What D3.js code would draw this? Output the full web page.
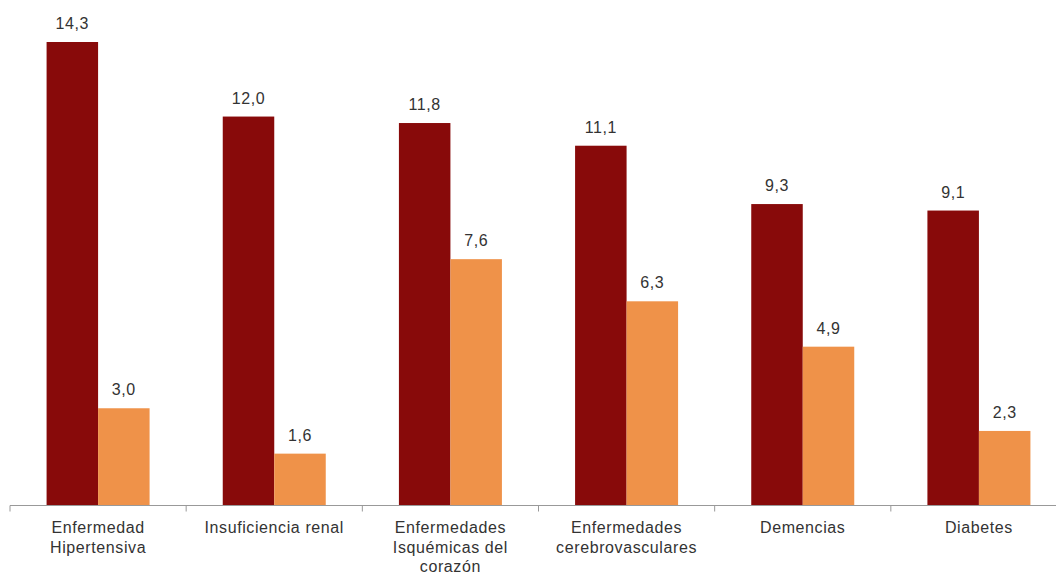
<!DOCTYPE html>
<html><head><meta charset="utf-8">
<script src="https://cdn.jsdelivr.net/npm/d3@7"></script>
<style>html,body{margin:0;padding:0;background:#fff;}svg{display:block;}</style>
</head><body>
<svg id="chart" width="1056" height="574"></svg>
<script>
const categories = [
  ["Enfermedad", "Hipertensiva"],
  ["Insuficiencia renal"],
  ["Enfermedades", "Isquémicas del", "corazón"],
  ["Enfermedades", "cerebrovasculares"],
  ["Demencias"],
  ["Diabetes"]
];
const seriesA = [14.3, 12.0, 11.8, 11.1, 9.3, 9.1];
const seriesB = [3.0, 1.6, 7.6, 6.3, 4.9, 2.3];
const colors = ["#880A0A", "#EF9249"];

const svg = d3.select("#chart");
const baseY = 505.5;
const x = d3.scaleBand().domain(d3.range(categories.length)).range([10, 1067]).paddingInner(0).paddingOuter(0);
const y = d3.scaleLinear().domain([0, 14.3]).range([baseY, 42]);
const barW = 51.5;
const fmt = v => v.toFixed(1).replace(".", ",");
const FONT = "Liberation Sans, Arial, sans-serif";

const series = [seriesA, seriesB];
series.forEach((vals, si) => {
  const g = svg.append("g");
  g.selectAll("rect").data(vals).enter().append("rect")
    .attr("x", (d, i) => x(i) + x.bandwidth() / 2 - barW + si * barW)
    .attr("y", d => y(d))
    .attr("width", barW)
    .attr("height", d => baseY - y(d))
    .attr("fill", colors[si]);
  g.selectAll("text").data(vals).enter().append("text")
    .attr("x", (d, i) => x(i) + x.bandwidth() / 2 - barW + si * barW + barW / 2)
    .attr("y", d => y(d) - 13)
    .attr("text-anchor", "middle")
    .attr("font-family", FONT)
    .attr("font-size", 16)
    .attr("letter-spacing", 0.6)
    .attr("fill", "#333")
    .text(fmt);
});

// axis
const axisG = svg.append("g");
axisG.append("line").attr("x1", 10).attr("x2", 1056).attr("y1", baseY).attr("y2", baseY)
  .attr("stroke", "#999").attr("stroke-width", 1);
const tickPos = d3.range(categories.length + 1).map(i => i < categories.length ? x(i) : x(i - 1) + x.bandwidth());
axisG.selectAll("line.tick").data(tickPos).enter().append("line").attr("class", "tick")
  .attr("x1", d => d).attr("x2", d => d).attr("y1", baseY).attr("y2", baseY + 6)
  .attr("stroke", "#999");

const labels = svg.append("g");
categories.forEach((lines, i) => {
  const t = labels.append("text")
    .attr("x", x(i) + x.bandwidth() / 2)
    .attr("y", 533)
    .attr("text-anchor", "middle")
    .attr("font-family", FONT)
    .attr("font-size", 16)
    .attr("letter-spacing", 0.6)
    .attr("fill", "#333");
  lines.forEach((ln, j) => {
    t.append("tspan").attr("x", x(i) + x.bandwidth() / 2).attr("dy", j === 0 ? 0 : 19.5).text(ln);
  });
});
</script>
</body></html>
